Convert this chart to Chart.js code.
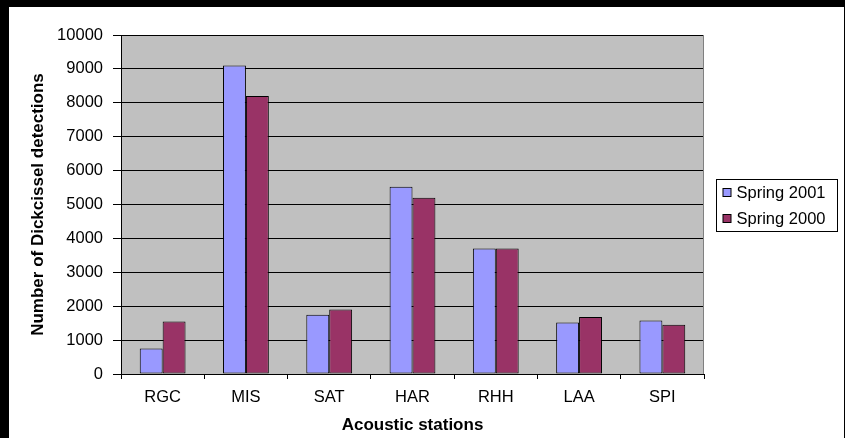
<!DOCTYPE html>
<html>
<head>
<meta charset="utf-8">
<script src="https://cdn.jsdelivr.net/npm/chart.js@4/dist/chart.umd.min.js"></script>
<style>
  html, body { margin: 0; padding: 0; background: #000; }
  body { width: 845px; height: 438px; position: relative; overflow: hidden; }
  #frame { position: absolute; left: 9px; top: 7px; width: 835px; height: 431px; background: #fff; }
  canvas { display: block; }
</style>
</head>
<body>
<div id="frame"><canvas id="chart" width="835" height="431"></canvas></div>
<script>
// Acoustic monitoring stations
const stations = ['RGC', 'MIS', 'SAT', 'HAR', 'RHH', 'LAA', 'SPI'];

// Dickcissel detections per station
const spring2001 = [750, 9100, 1750, 5520, 3700, 1520, 1580];
const spring2000 = [1550, 8200, 1900, 5200, 3700, 1680, 1450];

// Series names
const seriesNames = ['Spring 2001', 'Spring 2000'];

// Value axis
const yMin = 0;
const yMax = 10000;
const yStep = 1000;

const FONT = "'Liberation Sans', Arial, sans-serif";

// Grey plot background with a darker right edge
const plotBackground = {
  id: 'plotBackground',
  beforeDraw(chart) {
    const { ctx, chartArea: a } = chart;
    ctx.save();
    ctx.fillStyle = '#c0c0c0';
    ctx.fillRect(a.left, a.top, a.right - a.left, a.bottom - a.top);
    ctx.restore();
  },
  afterDraw(chart) {
    const { ctx, chartArea: a } = chart;
    ctx.save();
    ctx.strokeStyle = '#808080';
    ctx.lineWidth = 1;
    ctx.beginPath();
    ctx.moveTo(Math.round(a.right) - 0.5, a.top);
    ctx.lineTo(Math.round(a.right) - 0.5, a.bottom);
    ctx.stroke();
    ctx.restore();
  }
};

// Boxed legend to the right of the plot, centred on it vertically
const boxedLegend = {
  id: 'boxedLegend',
  afterDraw(chart) {
    const { ctx, chartArea: a } = chart;
    const sets = chart.data.datasets;
    const rowH = 26;
    const boxW = 121;
    const boxH = sets.length * rowH;
    const left = Math.round(a.right + 12) + 0.5;
    const top = Math.round((a.top + a.bottom) / 2 - boxH / 2) + 0.5;
    ctx.save();
    ctx.strokeStyle = '#000';
    ctx.lineWidth = 1;
    ctx.strokeRect(left, top, boxW, boxH);
    ctx.font = '16.5px ' + FONT;
    ctx.textBaseline = 'middle';
    ctx.textAlign = 'left';
    sets.forEach((ds, i) => {
      const cy = top + rowH / 2 + i * rowH;
      const sx = left + 6.5;
      const sy = Math.round(cy - 4.5) + 0.5;
      ctx.fillStyle = ds.backgroundColor;
      ctx.fillRect(sx, sy, 8, 8);
      ctx.strokeStyle = '#000';
      ctx.strokeRect(sx, sy, 8, 8);
      ctx.fillStyle = '#000';
      ctx.fillText(ds.label, left + 20, cy + 1);
    });
    ctx.restore();
  }
};

new Chart(document.getElementById('chart'), {
  type: 'bar',
  data: {
    labels: stations,
    datasets: [
      {
        label: seriesNames[0],
        data: spring2001,
        backgroundColor: '#9999ff',
        borderColor: '#000',
        borderWidth: 1,
        borderSkipped: false,
        barPercentage: 1,
        categoryPercentage: 0.55
      },
      {
        label: seriesNames[1],
        data: spring2000,
        backgroundColor: '#993366',
        borderColor: '#000',
        borderWidth: 1,
        borderSkipped: false,
        barPercentage: 1,
        categoryPercentage: 0.55
      }
    ]
  },
  options: {
    responsive: false,
    animation: false,
    devicePixelRatio: 1,
    layout: { padding: { top: 28, right: 140, left: 0, bottom: 0 } },
    plugins: {
      legend: { display: false },
      tooltip: { enabled: false }
    },
    scales: {
      x: {
        grid: {
          display: true,
          offset: true,
          drawOnChartArea: false,
          drawTicks: true,
          tickLength: 5,
          color: '#000',
          lineWidth: 1
        },
        border: { display: true, color: '#000', width: 1 },
        ticks: {
          color: '#000',
          padding: 9,
          font: { family: FONT, size: 16.5 }
        },
        title: {
          display: true,
          text: 'Acoustic stations',
          color: '#000',
          font: { family: FONT, size: 17, weight: 'bold' },
          padding: { top: 0, bottom: 2 }
        },
        afterFit(scale) { scale.height = 64; }
      },
      y: {
        min: yMin,
        max: yMax,
        ticks: {
          stepSize: yStep,
          color: '#000',
          padding: 10,
          font: { family: FONT, size: 16.5 },
          callback: (v) => String(v)
        },
        grid: {
          color: '#000',
          lineWidth: 1,
          drawTicks: true,
          tickLength: 8
        },
        border: { display: true, color: '#000', width: 1 },
        title: {
          display: true,
          text: 'Number of Dickcissel detections',
          color: '#000',
          font: { family: FONT, size: 17, weight: 'bold' },
          padding: { top: 19, bottom: 0 }
        },
        afterFit(scale) { scale.width = 112; }
      }
    }
  },
  plugins: [plotBackground, boxedLegend]
});
</script>
</body>
</html>
